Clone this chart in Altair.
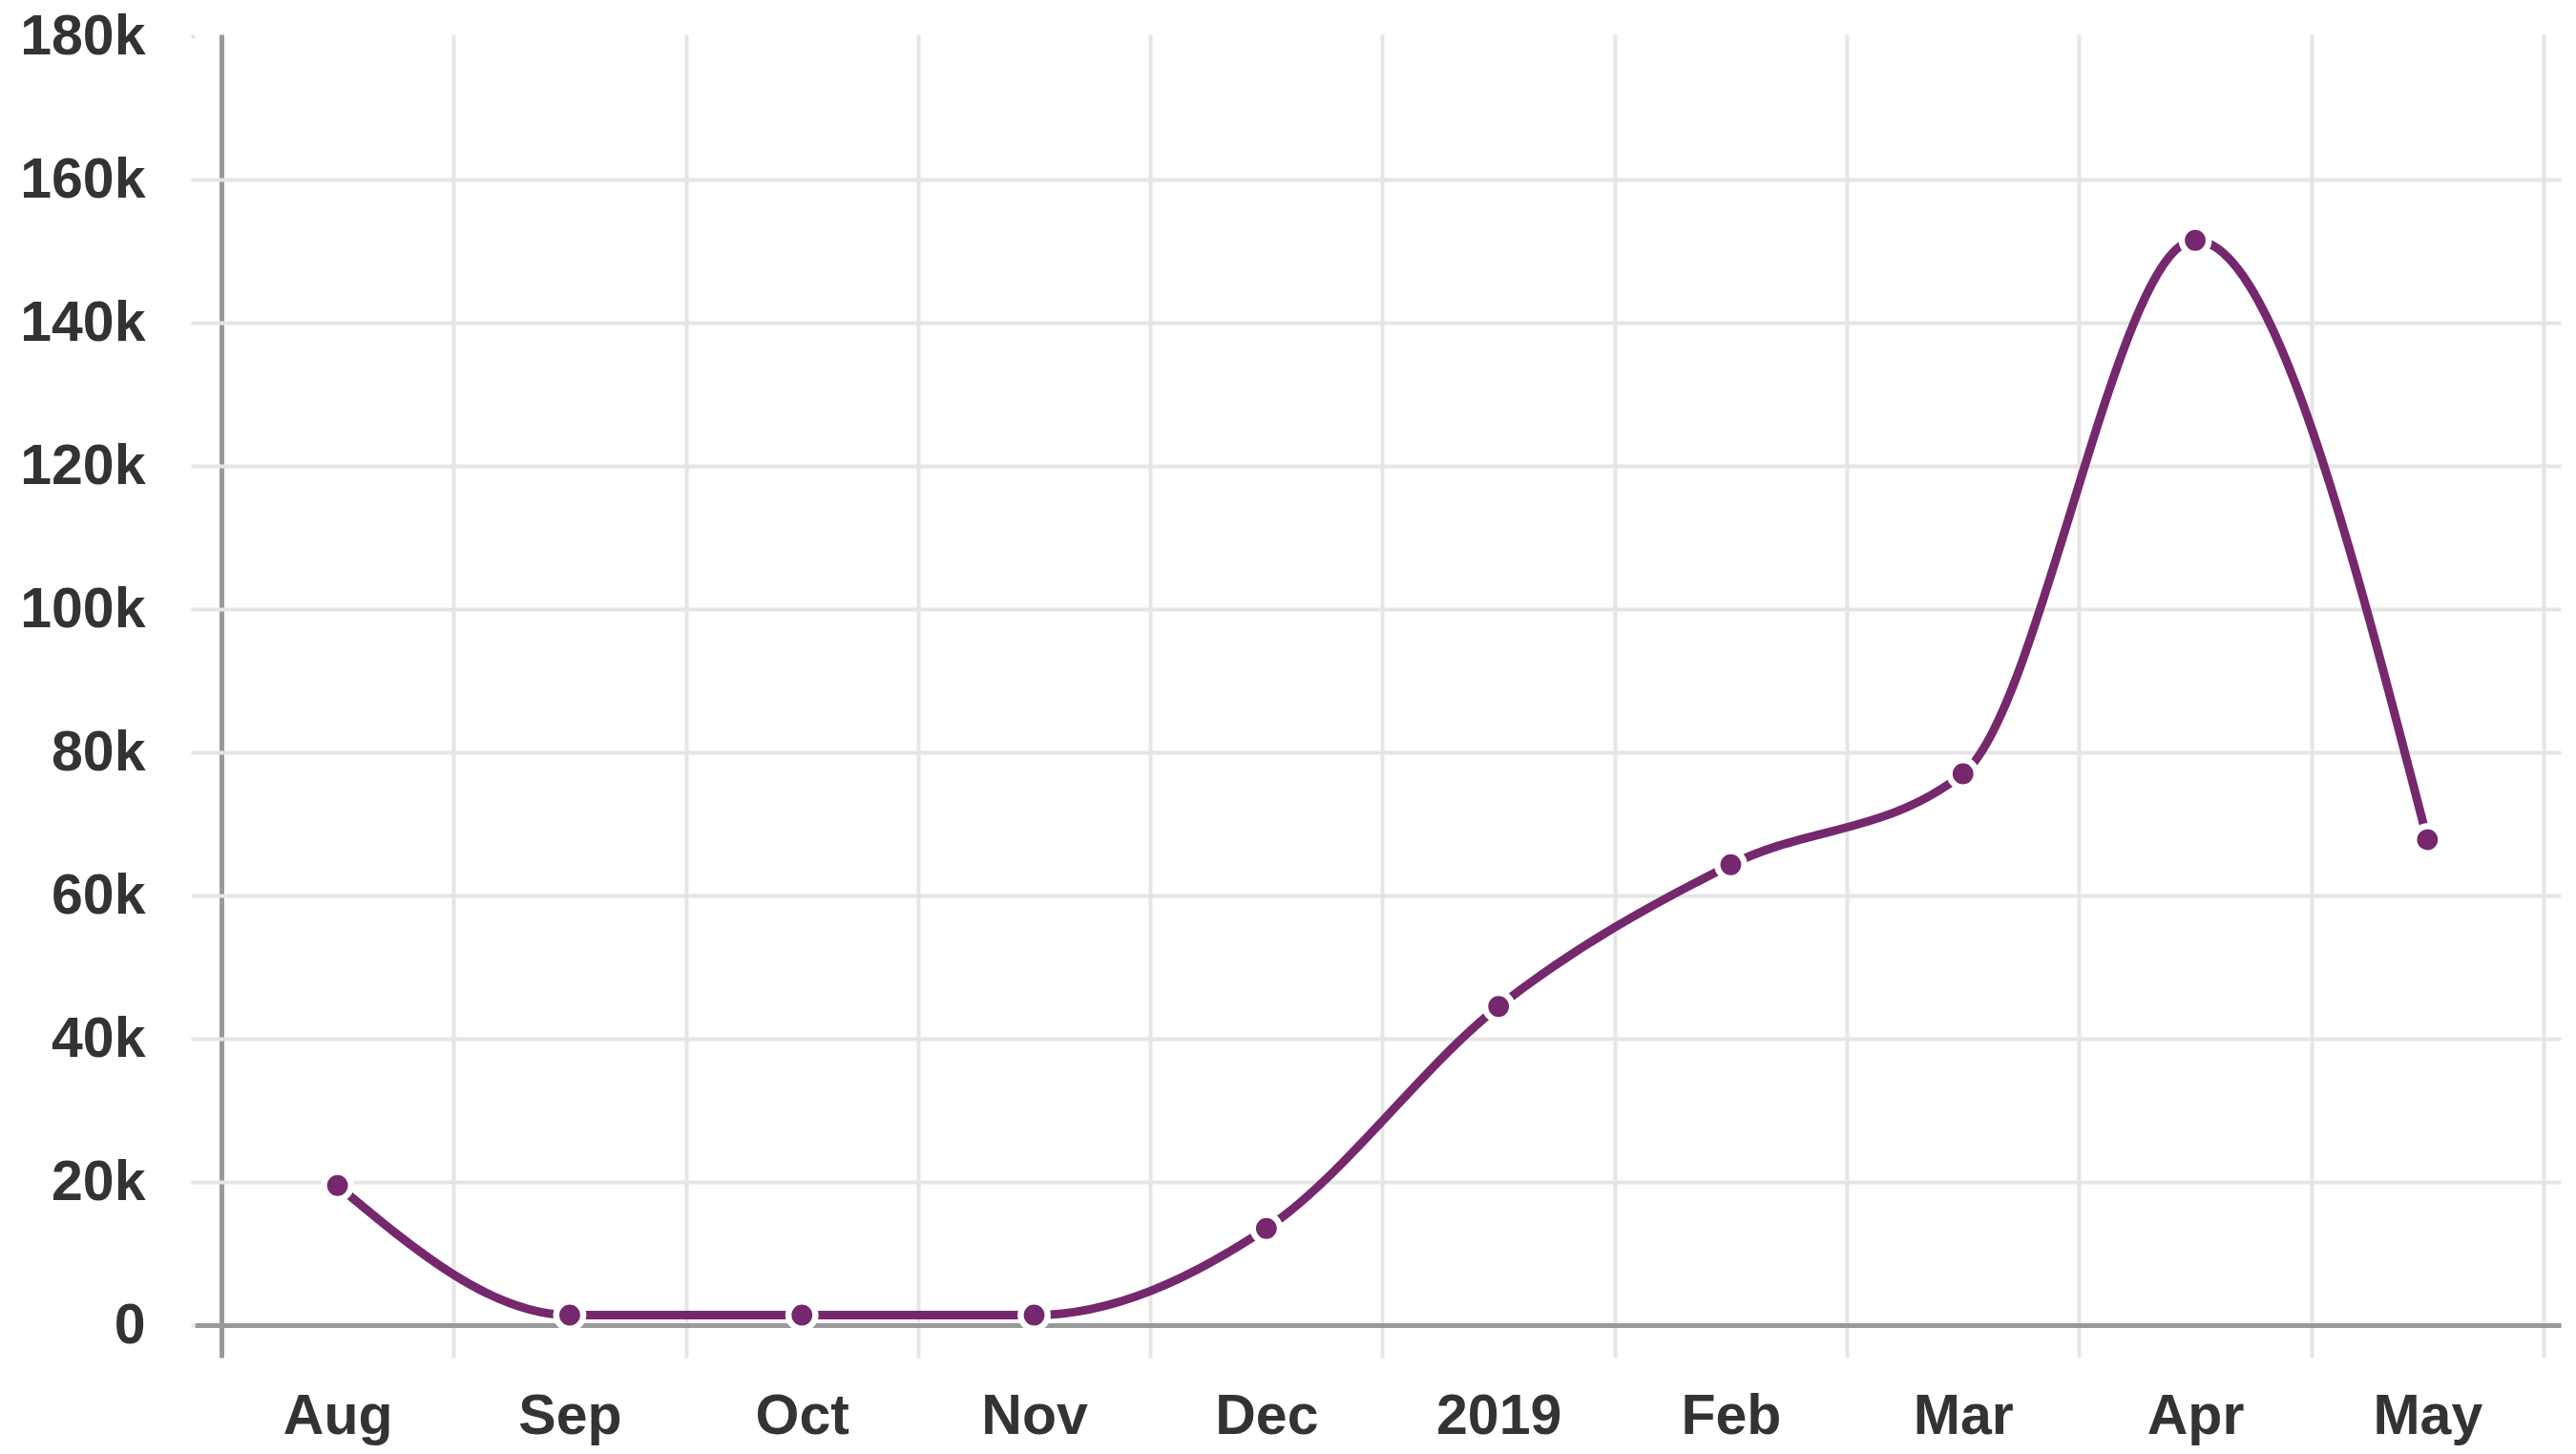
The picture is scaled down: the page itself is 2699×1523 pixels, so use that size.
import altair as alt
import pandas as pd

months = ["Aug", "Sep", "Oct", "Nov", "Dec", "2019", "Feb", "Mar", "Apr", "May"]
values = [19500, 1400, 1400, 1400, 13500, 44500, 64300, 77000, 151500, 67800]
y_ticks = [0, 20000, 40000, 60000, 80000, 100000, 120000, 140000, 160000, 180000]

PURPLE = "#75286d"
GRID = "#e5e5e5"
DOMAIN = "#999999"
FONT = "Liberation Sans"

df = pd.DataFrame({
    "month": months,
    "idx": [i + 0.5 for i in range(len(months))],
    "value": values,
})

W = 2479
H = 1352
x_lo, x_hi = -0.115, len(months) + 0.074
band_px = W / (x_hi - x_lo)

label_arr = "[" + ",".join("'%s'" % m for m in months + [""]) + "]"

x_enc = alt.X(
    "idx:Q",
    scale=alt.Scale(domain=[x_lo, x_hi], nice=False, zero=False),
    axis=alt.Axis(
        values=list(range(len(months) + 1)),
        title=None,
        grid=True,
        gridColor={"condition": {"test": "datum.value === 0", "value": DOMAIN}, "value": GRID},
        gridWidth={"condition": {"test": "datum.value === 0", "value": 5}, "value": 4},
        ticks=True,
        tickSize=34,
        tickWidth={"condition": {"test": "datum.value === 0", "value": 5}, "value": 4},
        tickColor={"condition": {"test": "datum.value === 0", "value": DOMAIN}, "value": GRID},
        domain=True,
        domainColor=DOMAIN,
        domainWidth=5,
        labelExpr=label_arr + "[datum.value]",
        labelOffset=band_px / 2,
        labelPadding=32,
        labelFont=FONT,
        labelFontSize=59,
        labelFontWeight="bold",
        labelColor="#333333",
        labelOverlap=False,
        labelFlush=False,
        labelBound=False,
    ),
)

y_enc = alt.Y(
    "value:Q",
    scale=alt.Scale(domain=[0, 180270], nice=False),
    axis=alt.Axis(
        values=y_ticks,
        title=None,
        labelExpr="datum.value === 0 ? '0' : format(datum.value / 1000, 'd') + 'k'",
        grid=True,
        gridColor=GRID,
        gridWidth=4,
        gridOpacity={"condition": {"test": "datum.value >= 180000", "value": 0}, "value": 1},
        domain=False,
        ticks=True,
        tickSize=4,
        tickWidth=4,
        tickColor=GRID,
        labelPadding=48,
        labelFont=FONT,
        labelFontSize=59,
        labelFontWeight="bold",
        labelColor="#333333",
        labelOverlap=False,
        labelBound=False,
        labelFlush=False,
    ),
)

base = alt.Chart(df)

line = base.mark_line(interpolate="monotone", color=PURPLE, strokeWidth=9).encode(x=x_enc, y=y_enc)
points = base.mark_circle(size=800, color=PURPLE, opacity=1, stroke="white", strokeWidth=6.5).encode(
    x="idx:Q", y="value:Q"
)

chart = (
    alt.layer(line, points)
    .properties(
        width=W,
        height=H,
        autosize=alt.AutoSizeParams(type="none"),
        padding={"left": 196, "top": 28, "right": 8, "bottom": 126},
        background="white",
    )
    .configure_view(strokeWidth=0)
)

chart.save("out.html", embed_options={"renderer": "svg", "actions": False})
